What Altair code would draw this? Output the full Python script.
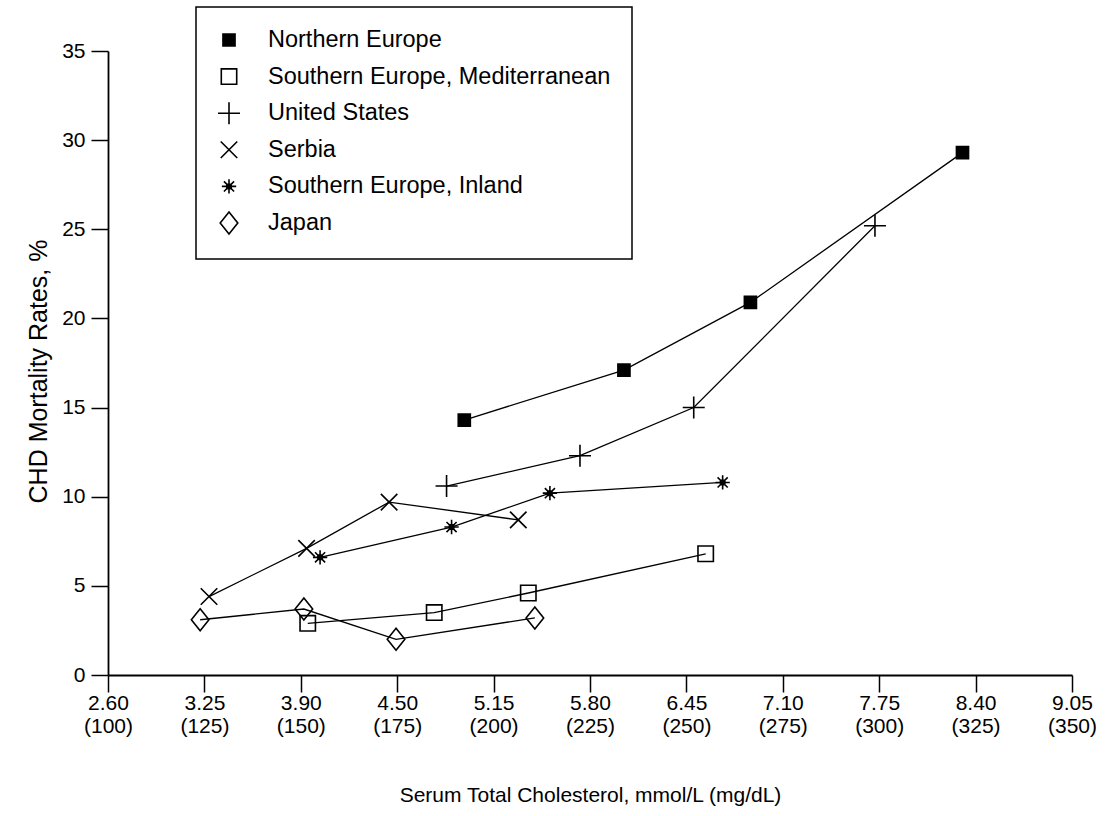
import altair as alt
import pandas as pd

series_names = ["Northern Europe", "Southern Europe, Mediterranean", "United States",
                "Serbia", "Southern Europe, Inland", "Japan"]

ne_chol = [192.4, 233.8, 266.6, 321.6]
ne_rate = [14.3, 17.1, 20.9, 29.3]
med_chol = [151.8, 184.6, 209.0, 255.0]
med_rate = [2.9, 3.5, 4.6, 6.8]
us_chol = [187.8, 222.4, 251.9, 298.9]
us_rate = [10.6, 12.3, 15.0, 25.2]
ser_chol = [126.2, 151.5, 172.9, 206.4]
ser_rate = [4.4, 7.1, 9.7, 8.7]
sei_chol = [155.0, 189.1, 214.6, 259.4]
sei_rate = [6.6, 8.3, 10.2, 10.8]
jp_chol = [123.9, 150.8, 174.7, 210.7]
jp_rate = [3.1, 3.7, 2.0, 3.2]

tick_mgdl = [100, 125, 150, 175, 200, 225, 250, 275, 300, 325, 350]
tick_mmol = ["2.60", "3.25", "3.90", "4.50", "5.15", "5.80", "6.45", "7.10", "7.75", "8.40", "9.05"]
y_ticks = [0, 5, 10, 15, 20, 25, 30, 35]

# symbol paths (unit box -1..1); the filled square is drawn with dense hatching
box = "M-1,-1M1,1"
hatch = "".join(f"M-0.55,{-0.55 + 0.1 * i:.2f}H0.55" for i in range(12))
shapes = [
    box + "M-0.55,-0.55H0.55V0.55H-0.55Z" + hatch,
    box + "M-0.7,-0.7H0.7V0.7H-0.7Z",
    box + "M-1,0H1M0,-1V1",
    box + "M-0.75,-0.75L0.75,0.75M-0.75,0.75L0.75,-0.75",
    box + "M-0.65,0H0.65M0,-0.65V0.65M-0.46,-0.46L0.46,0.46M-0.46,0.46L0.46,-0.46"
          "M-0.2,-0.2H0.2V0.2H-0.2Z",
    box + "M0,-1L0.8,0L0,1L-0.8,0Z",
]

rows = []
for name, xs, ys in zip(series_names,
                        [ne_chol, med_chol, us_chol, ser_chol, sei_chol, jp_chol],
                        [ne_rate, med_rate, us_rate, ser_rate, sei_rate, jp_rate]):
    for a, b in zip(xs, ys):
        rows.append({"series": name, "chol": a, "rate": b})
df = pd.DataFrame(rows)

label_map = "{" + ",".join(f"'{v}':'{m}'" for v, m in zip(tick_mgdl, tick_mmol)) + "}"

x_enc = alt.X("chol:Q", scale=alt.Scale(domain=[100, 350], nice=False, zero=False),
              axis=alt.Axis(values=tick_mgdl, title="Serum Total Cholesterol, mmol/L (mg/dL)",
                            labelExpr=f"[{label_map}[datum.value + ''], '(' + datum.value + ')']",
                            labelLineHeight=23, labelPadding=0, titlePadding=48,
                            labelFontSize=21, titleFontSize=21, labelFlush=False))
y_enc = alt.Y("rate:Q", scale=alt.Scale(domain=[0, 35], nice=False),
              axis=alt.Axis(values=y_ticks, title="CHD Mortality Rates, %",
                            titleX=-70, titleY=320, titleBaseline="middle", titleAngle=270,
                            titleFontSize=25, labelFontSize=21, labelPadding=6))

lines = alt.Chart(df).mark_line(color="black", strokeWidth=1.3).encode(
    x=x_enc, y=y_enc, detail="series:N", order="chol:Q")

points = alt.Chart(df).mark_point(color="black", filled=False, strokeWidth=1.6,
                                  size=484, opacity=1).encode(
    x=x_enc, y=y_enc,
    shape=alt.Shape("series:N", scale=alt.Scale(domain=series_names, range=shapes),
                    sort=series_names, title=None),
)

chart = alt.layer(lines, points).properties(
    width=964, height=624,
    autosize=alt.AutoSizeParams(type="none"),
    padding={"left": 108, "top": 51, "right": 42, "bottom": 141},
).configure_view(stroke=None).configure_axis(
    grid=False, domainColor="black", domainWidth=1.8, tickColor="black", tickWidth=1.5,
    tickSize=17, labelFont="Liberation Sans", labelFontSize=21, labelColor="black",
    titleFont="Liberation Sans", titleFontSize=21, titleColor="black", titleFontWeight="normal",
).configure_legend(
    orient="none", legendX=88, legendY=-44, strokeColor="black", strokeWidth=1.5, padding=21,
    symbolSize=484, symbolStrokeWidth=1.6, symbolStrokeColor="black",
    labelFont="Liberation Sans", labelFontSize=23.5, labelColor="black", labelOffset=27,
    rowPadding=6.6, labelLimit=600,
)

chart.save("out.html", embed_options={"renderer": "svg", "actions": False})
